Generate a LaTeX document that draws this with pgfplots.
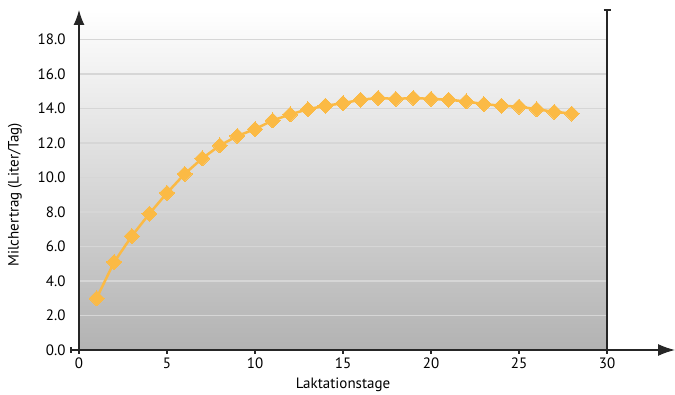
\documentclass[border=0pt]{standalone}
\usepackage{pgfplots}
\pgfplotsset{compat=1.18}
\usepackage{fontspec}
\setmainfont{PT Sans}
\usetikzlibrary{arrows.meta}
\definecolor{milk}{HTML}{FBBA45}
\begin{document}
\begin{tikzpicture}
\begin{axis}[
  name=ax,
  scale only axis, width=528pt, height=340pt,
  xmin=0, xmax=30, ymin=0, ymax=19.7,
  axis x line=bottom, axis y line=left,
  x axis line style={-{Latex[length=17pt,width=12pt]}, shorten >=-68pt, shorten <=-8pt, line width=1.3pt, draw=black!85},
  y axis line style={-{Latex[length=15pt,width=11pt]}, line width=1.3pt, draw=black!85},
  axis background/.style={shade, top color=white, bottom color=black!30},
  font=\fontsize{15pt}{18pt}\selectfont,
  xtick={0,5,...,30}, ytick={0,2,...,18},
  tick align=outside, major tick length=4pt,
  xtick style={line width=1.2pt, draw=black!85},
  ytick style={draw=none},
  yticklabel style={xshift=-6pt, /pgf/number format/fixed, /pgf/number format/precision=1, /pgf/number format/fixed zerofill},
  /pgf/number format/assume math mode=true,
  ymajorgrids, major grid style={draw=black!16, line width=1.5pt},
  xlabel={Laktationstage}, ylabel={Milchertrag (Liter/Tag)},
  xlabel style={at={(axis description cs:0.5,0)}, anchor=north, yshift=-24pt},
  ylabel style={at={(axis description cs:0,9/19.7)}, anchor=center, yshift=64pt},
  clip=false,
]
\addplot[color=milk, line width=2.5pt, mark=square*, mark size=5.3pt, mark options={rotate=45, fill=milk, draw=milk, line width=0pt}]
coordinates {
(1,3.0) (2,5.1) (3,6.6) (4,7.9) (5,9.1) (6,10.2) (7,11.1) (8,11.85) (9,12.4) (10,12.8)
(11,13.3) (12,13.65) (13,13.95) (14,14.15) (15,14.3) (16,14.5) (17,14.6) (18,14.55) (19,14.6) (20,14.55)
(21,14.5) (22,14.4) (23,14.25) (24,14.15) (25,14.1) (26,13.95) (27,13.8) (28,13.7)
};
\draw[line width=1.3pt, draw=black!85] (axis cs:30,0) -- (axis cs:30,19.7);
\draw[line width=1.3pt, draw=black!85] (axis cs:30,19.7) ++(-3.5pt,0) -- ++(7pt,0);
\draw[line width=1.2pt, draw=black!85] (axis cs:0,0) ++(-8pt,3pt) -- ++(0,-6pt);
\end{axis}
\path ([xshift=-79pt,yshift=-42pt]ax.south west) rectangle ([xshift=68pt,yshift=10pt]ax.north east);
\end{tikzpicture}
\end{document}
